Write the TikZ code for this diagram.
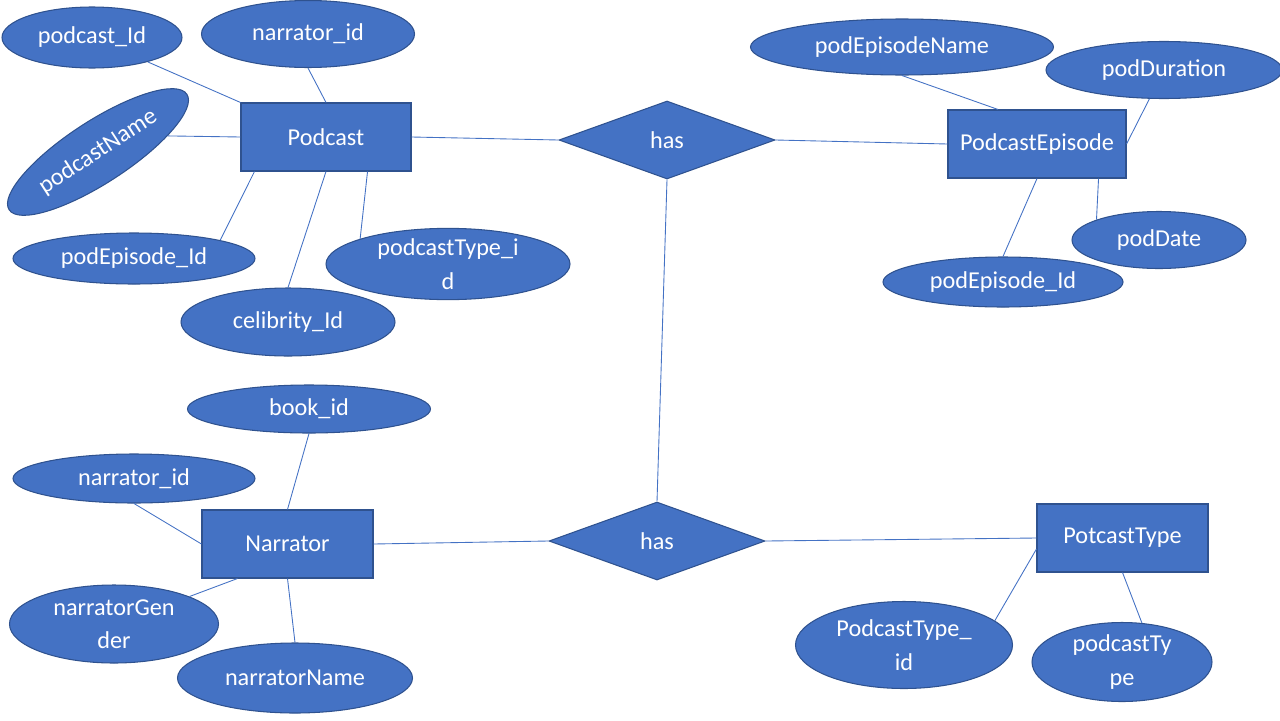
\documentclass[tikz,border=0pt]{standalone}
\usepackage{fontspec}
\setmainfont{Carlito}
\usetikzlibrary{shapes.geometric}
\definecolor{erfill}{HTML}{4472C4}
\definecolor{erdraw}{HTML}{2F528F}
\begin{document}
\begin{tikzpicture}[x=0.02cm,y=-0.02cm,
		every node/.style={font=\fontsize{13.8}{19}\selectfont,text=white,inner sep=0pt,align=center},
		entity/.style={rectangle,fill=erfill,draw=erdraw,line width=0.6pt,minimum width=#1,minimum height=68*0.02cm},
		attr/.style args={#1/#2}{ellipse,fill=erfill,draw=erdraw,line width=0.6pt,minimum width=#1*0.02cm,minimum height=#2*0.02cm},
		rel/.style={diamond,fill=erfill,draw=erdraw,line width=0.6pt,minimum width=216*0.02cm,minimum height=78*0.02cm,aspect=2.77},
		link/.style={draw=erfill,line width=0.5pt}]
		\useasboundingbox (0,0) rectangle (1280,720);
		% entities
		\node[entity=170*0.02cm] (podcast) at (326,137) {Podcast};
		\node[entity=178*0.02cm] (episode) at (1037,144) {PodcastEpisode};
		\node[entity=171*0.02cm] (narrator) at (287.5,544) {Narrator};
		\node[entity=171*0.02cm] (ptype) at (1122.5,538) {PotcastType};
		% relations
		\node[rel] (hasA) at (667,140) {has};
		\node[rel] (hasB) at (657,541) {has};
		% podcast attributes
		\node[attr=180/61] (podId) at (92,37.5) {podcast\_Id};
		\node[attr=213/67] (podNarr) at (308,34) {narrator\_id};
		\node[attr=212/62,rotate=33] (podName) at (98,152) {podcastName};
		\node[attr=242/51] (podEp) at (134,258.5) {podEpisode\_Id};
		\node[attr=214/68] (podCel) at (288,322) {celibrity\_Id};
		\node[attr=244/68] (podType) at (448,264) {podcastType\_i\\d};
		% episode attributes
		\node[attr=303/56] (epName) at (902,47) {podEpisodeName};
		\node[attr=236/57] (epDur) at (1164,70) {podDuration};
		\node[attr=174/57] (epDate) at (1159,240) {podDate};
		\node[attr=240/50] (epId) at (1003,282) {podEpisode\_Id};
		% narrator attributes
		\node[attr=243/48] (narBook) at (309,409) {book\_id};
		\node[attr=242/49] (narId) at (134,478.5) {narrator\_id};
		\node[attr=209/78] (narGen) at (114,624) {narratorGen\\der};
		\node[attr=235/70] (narName) at (295,678) {narratorName};
		% type attributes
		\node[attr=217/87] (typeId) at (904,645) {PodcastType\_\\id};
		\node[attr=180/79] (typeName) at (1122,662) {podcastTy\\pe};
		% connectors
		\draw[link] (podId) -- (podcast.north west);
		\draw[link] (podNarr.south) -- (podcast.north);
		\draw[link] (podName.340) -- (podcast.west);
		\draw[link] (podEp.12) -- ([xshift=14*0.02cm]podcast.south west);
		\draw[link] (podCel.north) -- (podcast.south);
		\draw[link] (podType.164) -- ([xshift=-44*0.02cm]podcast.south east);
		\draw[link] (podcast.east) -- (hasA.west);
		\draw[link] (hasA.east) -- (episode.west);
		\draw[link] (hasA.south) -- (hasB.north);
		\draw[link] (epName.south) -- ([xshift=-39*0.02cm]episode.north);
		\draw[link] (epDur) -- (episode.east);
		\draw[link] (epDate.162) -- ([xshift=-28*0.02cm]episode.south east);
		\draw[link] (epId.north) -- (episode.south);
		\draw[link] (narBook.south) -- (narrator.north);
		\draw[link] (narId.south) -- (narrator.west);
		\draw[link] (narGen.20) -- ([xshift=36*0.02cm]narrator.south west);
		\draw[link] (narName.north) -- (narrator.south);
		\draw[link] (narrator.east) -- (hasB.west);
		\draw[link] (hasB.east) -- (ptype.west);
		\draw[link] (typeId.15) -- ([yshift=-11*0.02cm]ptype.west);
		\draw[link] (typeName.63) -- (ptype.south);
\end{tikzpicture}
\end{document}
